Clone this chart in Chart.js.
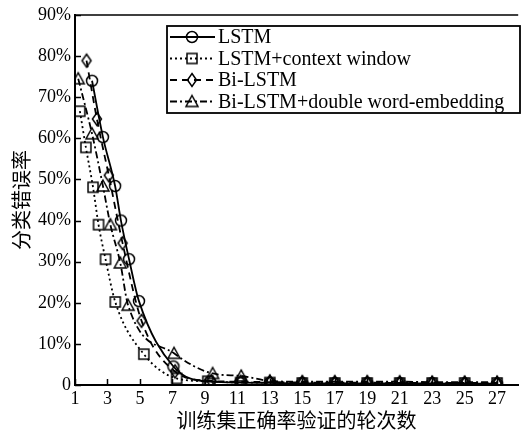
<!DOCTYPE html>
<html lang="zh">
<head>
  <meta charset="UTF-8">
  <title>分类错误率</title>
  <script src="https://cdn.jsdelivr.net/npm/chart.js"></script>
  <style>
    body { margin: 0; background: #fff; }
    canvas { display: block; }
  </style>
</head>
<body>
  <canvas id="errChart" width="525" height="432"></canvas>

  <script>
    // 数据（从图上读取的估计值，单位 %）
    const seriesNames = ['LSTM', 'LSTM+context window', 'Bi-LSTM', 'Bi-LSTM+double word-embedding'];

    const lstmX = [2.05, 2.72, 3.47, 3.83, 4.33, 4.94, 7.06, 9.3, 11.2, 13, 15, 17, 19, 21, 23, 25, 27];
    const lstmY = [74.0, 60.3, 48.4, 40.0, 30.6, 20.4, 4.5, 0.8, 0.6, 0.5, 0.4, 0.4, 0.4, 0.4, 0.4, 0.3, 0.3];

    const ctxWinX = [1.3, 1.67, 2.11, 2.45, 2.88, 3.48, 5.24, 7.26, 9.18, 11.2, 13, 15, 17, 19, 21, 23, 25, 27];
    const ctxWinY = [66.6, 57.8, 48.1, 39.0, 30.6, 20.2, 7.5, 1.6, 0.9, 0.6, 0.6, 0.5, 0.5, 0.5, 0.5, 0.5, 0.5, 0.5];

    const biX = [1.71, 2.35, 3.08, 3.93, 5.10, 7.16, 9.4, 11.2, 13, 15, 17, 19, 21, 23, 25, 27];
    const biY = [78.9, 64.7, 51.0, 34.5, 15.6, 3.3, 1.0, 0.8, 0.7, 0.6, 0.6, 0.6, 0.5, 0.5, 0.5, 0.5];

    const biDwX = [1.2, 2.05, 2.72, 3.18, 3.79, 4.27, 7.1, 9.48, 11.24, 13, 15, 17, 19, 21, 23, 25, 27];
    const biDwY = [74.5, 61.1, 48.4, 39.0, 29.7, 19.4, 7.7, 2.8, 2.2, 1.0, 0.8, 0.8, 0.8, 0.8, 0.7, 0.7, 0.7];

    const xTicks = [1, 3, 5, 7, 9, 11, 13, 15, 17, 19, 21, 23, 25, 27];
    const yTicks = [0, 10, 20, 30, 40, 50, 60, 70, 80, 90];

    // 空心标记
    function marker(kind) {
      const c = document.createElement('canvas');
      c.width = 18; c.height = 18;
      const g = c.getContext('2d');
      g.strokeStyle = '#000';
      g.lineWidth = 1.5;
      g.beginPath();
      if (kind === 'circle') {
        g.arc(9, 9, 5.5, 0, Math.PI * 2);
      } else if (kind === 'square') {
        g.rect(4, 4, 10, 10);
      } else if (kind === 'diamond') {
        g.moveTo(9, 2.5); g.lineTo(13.5, 9); g.lineTo(9, 15.5); g.lineTo(4.5, 9); g.closePath();
      } else {
        g.moveTo(9, 3); g.lineTo(15, 14); g.lineTo(3, 14); g.closePath();
      }
      g.stroke();
      return c;
    }

    function pts(xs, ys) {
      return xs.map((x, i) => ({ x: x, y: ys[i] }));
    }

    const styles = [
      { dash: [], mk: marker('circle') },
      { dash: [2, 3], mk: marker('square') },
      { dash: [7, 5], mk: marker('diamond') },
      { dash: [7, 3, 2, 3], mk: marker('triangle') }
    ];
    const allData = [pts(lstmX, lstmY), pts(ctxWinX, ctxWinY), pts(biX, biY), pts(biDwX, biDwY)];

    const datasets = seriesNames.map((name, i) => ({
      label: name,
      data: allData[i],
      borderColor: '#000',
      borderWidth: 1.8,
      borderDash: styles[i].dash,
      pointStyle: styles[i].mk,
      pointRadius: 5,
      backgroundColor: 'rgba(0,0,0,0)',
      cubicInterpolationMode: 'monotone',
      fill: false
    }));

    // 内侧刻度、上边框和图例
    const framePlugin = {
      id: 'frame',
      afterDraw(chart) {
        const c = chart.ctx;
        const a = chart.chartArea;
        const xs = chart.scales.x, ys = chart.scales.y;
        c.save();
        c.strokeStyle = '#000';
        c.lineWidth = 1.5;
        c.beginPath();
        c.moveTo(a.left, a.top); c.lineTo(a.right, a.top);
        xTicks.forEach(v => {
          const p = Math.round(xs.getPixelForValue(v)) + 0.5;
          c.moveTo(p, a.bottom); c.lineTo(p, a.bottom - 6);
        });
        yTicks.forEach(v => {
          const p = Math.round(ys.getPixelForValue(v)) + 0.5;
          c.moveTo(a.left, p); c.lineTo(a.left + 6, p);
        });
        c.stroke();

        // 图例
        c.fillStyle = '#fff';
        c.fillRect(167, 26, 353, 87);
        c.lineWidth = 1.8;
        c.strokeRect(167, 26, 353, 87);
        c.font = '20px "Liberation Serif", "DejaVu Serif", serif';
        c.textBaseline = 'middle';
        c.fillStyle = '#000';
        seriesNames.forEach((name, i) => {
          const y = 37 + i * 21.5;
          c.beginPath();
          c.setLineDash(styles[i].dash);
          c.moveTo(170, y); c.lineTo(215, y);
          c.stroke();
          c.setLineDash([]);
          c.drawImage(styles[i].mk, 192 - 9, y - 9);
          c.fillText(name, 218, y + 1);
        });
        c.restore();
      }
    };

    const serif = '"Liberation Serif", "DejaVu Serif", serif';
    const cjk = '"Noto Sans CJK SC", sans-serif';

    new Chart(document.getElementById('errChart'), {
      type: 'line',
      data: { datasets: datasets },
      options: {
        responsive: false,
        animation: false,
        layout: { padding: { top: 15, right: 0, left: 0, bottom: 0 } },
        plugins: { legend: { display: false }, tooltip: { enabled: false } },
        scales: {
          x: {
            type: 'linear',
            min: 1,
            max: 28.3,
            afterBuildTicks: s => { s.ticks = xTicks.map(v => ({ value: v })); },
            afterFit: s => { s.height = 47; },
            grid: { display: false, drawTicks: false, tickLength: 0 },
            border: { display: true, color: '#000', width: 2 },
            ticks: { color: '#000', padding: 3, maxRotation: 0, autoSkip: false, font: { family: serif, size: 18 } },
            title: { display: true, text: '训练集正确率验证的轮次数', color: '#000', padding: { top: 0, bottom: 0 }, font: { family: cjk, size: 20 } }
          },
          y: {
            min: 0,
            max: 90,
            afterBuildTicks: s => { s.ticks = yTicks.map(v => ({ value: v })); },
            afterFit: s => { s.width = 75; },
            grid: { display: false, drawTicks: false, tickLength: 0 },
            border: { display: true, color: '#000', width: 2 },
            ticks: {
              color: '#000', padding: 4, font: { family: serif, size: 18 },
              callback: v => v === 0 ? '0' : v + '%'
            },
            title: { display: true, text: '分类错误率', color: '#000', padding: { top: 9, bottom: 0 }, font: { family: cjk, size: 20 } }
          }
        }
      },
      plugins: [framePlugin]
    });
  </script>
</body>
</html>
